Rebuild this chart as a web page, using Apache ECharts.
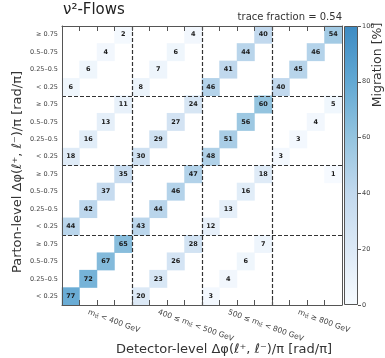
<!DOCTYPE html>
<html>
<head>
<meta charset="utf-8">
<script src="https://cdn.jsdelivr.net/npm/echarts@6/dist/echarts.min.js"></script>
<style>html,body{margin:0;padding:0;background:#fff;}#c{width:385px;height:358px;}</style>
</head>
<body>
<div id="c"></div>
<script>
// Δφ bin labels (within each m_tt block), bottom to top
const dphiLabels = ['< 0.25', '0.25–0.5', '0.5–0.75', '≥ 0.75'];
// m_tt block labels (detector level, x axis)
const mttLabels = ['m{s|tt̄} < 400 GeV', '400 ≤ m{s|tt̄} < 500 GeV', '500 ≤ m{s|tt̄} < 800 GeV', 'm{s|tt̄} ≥ 800 GeV'];
// Migration [%] : for each parton-level m_tt block, values in each detector-level block (diagonal Δφ bins, low to high)
const partonBelow400 = [[77, 72, 67, 65], [20, 23, 26, 28], [3, 4, 6, 7], [null, null, null, null]];
const parton400to500 = [[44, 42, 37, 35], [43, 44, 46, 47], [12, 13, 16, 18], [null, null, null, 1]];
const parton500to800 = [[18, 16, 13, 11], [30, 29, 27, 24], [48, 51, 56, 60], [3, 3, 4, 5]];
const partonAbove800 = [[6, 6, 4, 2], [8, 7, 6, 4], [46, 41, 44, 40], [40, 45, 46, 54]];
const traceFraction = 0.54;
const colorbarTicks = [0, 20, 40, 60, 80, 100];
const colorStops = ['#f7fbff', '#dce9f6', '#c2d9ee', '#94c4df', '#62a8d3', '#3d8bc3'];

const blocks = [partonBelow400, parton400to500, parton500to800, partonAbove800];
const cats16 = Array.from({length: 16}, (_, i) => String(i));
const data = [];
blocks.forEach((rowBlock, rb) => {
  rowBlock.forEach((vals, db) => {
    vals.forEach((v, k) => {
      if (v !== null) data.push([db * 4 + k, rb * 4 + k, v]);
    });
  });
});

const FONT = 'DejaVu Sans';
const spine = '#555';
const dash = {color: '#333', width: 1.2, type: [4, 2]};

const chart = echarts.init(document.getElementById('c'), null, {renderer: 'canvas'});
chart.setOption({
  animation: false,
  textStyle: {fontFamily: FONT},
  grid: [
    {left: 62, top: 26, width: 280, height: 279},
    {left: 344, top: 26, width: 14, height: 279}
  ],
  xAxis: [
    {
      type: 'category', data: cats16, gridIndex: 0, position: 'bottom', z: 10,
      axisLine: {show: true, lineStyle: {color: spine, width: 1}},
      axisTick: {show: true, inside: true, length: 5, interval: 0, lineStyle: {color: spine}},
      axisLabel: {
        show: true, interval: (i) => i % 4 === 1, rotate: -20, margin: 7,
        fontSize: 7.5, color: '#444', fontFamily: FONT,
        formatter: (v, i) => mttLabels[Math.floor(i / 4)],
        rich: {s: {fontSize: 5, color: '#444', verticalAlign: 'bottom', fontFamily: FONT}}
      },
      splitLine: {show: false}
    },
    {
      type: 'category', data: cats16, gridIndex: 0, position: 'top', z: 10,
      axisLine: {show: true, lineStyle: {color: spine, width: 1}},
      axisTick: {show: true, inside: true, length: 5, interval: 0, lineStyle: {color: spine}},
      axisLabel: {show: false}, splitLine: {show: false}
    },
    {
      type: 'category', data: ['0', '1', '2', '3'], gridIndex: 0, position: 'bottom', z: 10,
      axisLine: {show: false}, axisTick: {show: false}, axisLabel: {show: false},
      splitLine: {show: true, interval: 0, showMinLine: false, showMaxLine: false, lineStyle: dash}
    },
    {
      type: 'category', data: [''], gridIndex: 1, show: false
    }
  ],
  yAxis: [
    {
      type: 'category', data: cats16, gridIndex: 0, position: 'left', z: 10,
      axisLine: {show: true, lineStyle: {color: spine, width: 1}},
      axisTick: {show: false},
      axisLabel: {show: true, interval: 0, margin: 4, fontSize: 6.5, color: '#444', fontFamily: FONT,
        formatter: (v, i) => dphiLabels[i % 4]},
      splitLine: {show: false}
    },
    {
      type: 'category', data: ['0', '1', '2', '3'], gridIndex: 0, position: 'left', z: 10,
      axisLine: {show: false}, axisTick: {show: false}, axisLabel: {show: false},
      splitLine: {show: true, interval: 0, showMinLine: false, showMaxLine: false, lineStyle: dash}
    },
    {
      type: 'category', data: cats16, gridIndex: 0, position: 'right', z: 10,
      axisLine: {show: true, lineStyle: {color: spine, width: 1}},
      axisTick: {show: false}, axisLabel: {show: false}, splitLine: {show: false}
    },
    {
      type: 'value', gridIndex: 1, position: 'right', min: colorbarTicks[0], max: colorbarTicks[colorbarTicks.length - 1],
      interval: 20,
      axisLine: {show: false},
      axisTick: {show: true, length: 3, lineStyle: {color: spine}},
      axisLabel: {show: true, margin: 4, fontSize: 6.5, color: '#444', fontFamily: FONT},
      splitLine: {show: false}
    }
  ],
  visualMap: {
    type: 'continuous', show: false, min: 0, max: 100, seriesIndex: 0, dimension: 2,
    inRange: {color: colorStops}
  },
  series: [
    {
      type: 'heatmap', xAxisIndex: 0, yAxisIndex: 0, data: data,
      label: {show: true, formatter: (p) => String(p.value[2]), fontSize: 6.5, fontWeight: 'bold',
        color: '#1a1a1a', fontFamily: FONT},
      emphasis: {disabled: true}
    },
    {
      type: 'bar', xAxisIndex: 3, yAxisIndex: 3, barWidth: '100%',
      data: [colorbarTicks[colorbarTicks.length - 1]],
      itemStyle: {
        borderColor: spine, borderWidth: 1,
        color: new echarts.graphic.LinearGradient(0, 1, 0, 0,
          colorStops.map((c, i) => ({offset: i / (colorStops.length - 1), color: c})))
      },
      emphasis: {disabled: true}, silent: true
    }
  ],
  graphic: [
    {type: 'text', left: 63, top: 3, style: {text: 'ν²-Flows', fontSize: 15, fill: '#222', fontFamily: FONT}},
    {type: 'text', x: 342, y: 17, style: {text: 'trace fraction = ' + traceFraction.toFixed(2), fontSize: 10, fill: '#333',
      fontFamily: FONT, align: 'right', verticalAlign: 'middle'}},
    {type: 'text', x: 224, y: 350, style: {text: 'Detector-level Δφ(ℓ⁺, ℓ⁻)/π [rad/π]', fontSize: 13, fill: '#333',
      fontFamily: FONT, align: 'center', verticalAlign: 'middle'}},
    {type: 'text', x: 18, y: 172, rotation: Math.PI / 2, style: {text: 'Parton-level Δφ(ℓ⁺, ℓ⁻)/π [rad/π]', fontSize: 13,
      fill: '#333', fontFamily: FONT, align: 'center', verticalAlign: 'middle'}},
    {type: 'text', x: 378, y: 65, rotation: Math.PI / 2, style: {text: 'Migration [%]', fontSize: 12.5, fill: '#333',
      fontFamily: FONT, align: 'center', verticalAlign: 'middle'}}
  ]
});
</script>
</body>
</html>
